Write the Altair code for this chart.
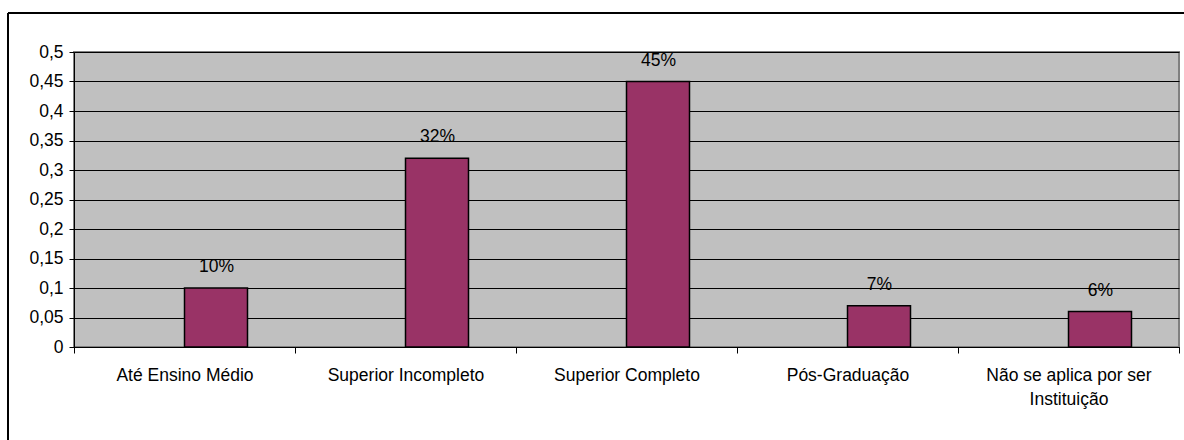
import altair as alt
import pandas as pd

# Escolaridade dos respondentes
categorias = [
    "Até Ensino Médio",
    "Superior Incompleto",
    "Superior Completo",
    "Pós-Graduação",
    "Não se aplica por ser Instituição",
]
valores = [0.10, 0.32, 0.45, 0.07, 0.06]
rotulos = ["10%", "32%", "45%", "7%", "6%"]
y_ticks = [0, 0.05, 0.1, 0.15, 0.2, 0.25, 0.3, 0.35, 0.4, 0.45, 0.5]

df = pd.DataFrame({"categoria": categorias, "valor": valores, "rotulo": rotulos})

FONT = "Liberation Sans"
FS = 17.5
W, H = 1105, 295

x_enc = alt.X(
    "categoria:N",
    sort=None,
    scale=alt.Scale(paddingInner=0, paddingOuter=0),
    axis=alt.Axis(
        title=None,
        labelAngle=0,
        tickBand="extent",
        tickSize=6,
        tickColor="black",
        domainColor="black",
        labelPadding=13,
        labelFont=FONT,
        labelFontSize=FS,
        labelColor="black",
        labelLineHeight=24,
        labelLimit=300,
        labelExpr="datum.label == 'Não se aplica por ser Instituição' ? ['Não se aplica por ser', 'Instituição'] : datum.label",
    ),
)
y_enc = alt.Y(
    "valor:Q",
    scale=alt.Scale(domain=[0, 0.5], nice=False),
    axis=alt.Axis(
        title=None,
        values=y_ticks,
        labelOverlap=False,
        labelExpr="replace(format(datum.value, '.2~f'), '.', ',')",
        tickSize=5,
        tickColor="black",
        domainColor="black",
        labelPadding=6,
        labelFont=FONT,
        labelFontSize=FS,
        labelColor="black",
        grid=True,
        gridColor="black",
        gridWidth=1,
    ),
)

bars = alt.Chart(df).mark_bar(
    width=63, xOffset=31.5, color="#993366", stroke="black", strokeWidth=1.5
).encode(x=x_enc, y=y_enc)

labels = alt.Chart(df).mark_text(
    dx=32, dy=-16, baseline="alphabetic", font=FONT, fontSize=FS, color="black"
).encode(x=x_enc, y=y_enc, text="rotulo:N")

# Moldura externa do gráfico
frame_df = pd.DataFrame({"k": [0]})
frame_left = alt.Chart(frame_df).mark_rule(color="black", strokeWidth=2).encode(
    x=alt.value(-66), y=alt.value(-39), y2=alt.value(400)
)
frame_top = alt.Chart(frame_df).mark_rule(color="black", strokeWidth=2).encode(
    x=alt.value(-66), x2=alt.value(1120), y=alt.value(-39)
)

chart = (
    alt.layer(bars, labels, frame_left, frame_top)
    .properties(
        width=W,
        height=H,
        autosize=alt.AutoSizeParams(type="none"),
        padding={"left": 74, "top": 52, "right": 5, "bottom": 93},
        background="white",
    )
    .configure_view(fill="#C0C0C0", stroke="#808080", strokeWidth=2)
)

chart.save("out.html", embed_options={"renderer": "svg", "actions": False})
